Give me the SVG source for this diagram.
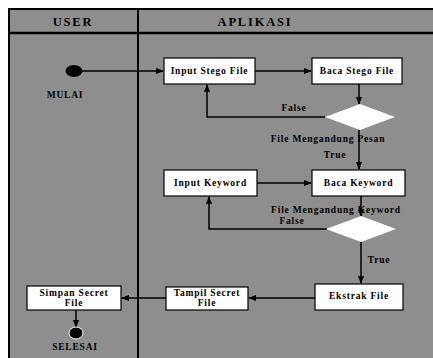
<svg xmlns="http://www.w3.org/2000/svg" width="433" height="358" viewBox="0 0 433 358">
  <style>
    .lane { fill: #8e8e8e; stroke: #000; stroke-width: 2; }
    .box { fill: #fff; stroke: #000; stroke-width: 1.2; }
    .dec { fill: #fff; stroke: none; }
    .t { font-family: "Liberation Serif", "Times New Roman", serif; font-weight: bold; font-size: 9.5px; letter-spacing: 0.8px; fill: #000; text-anchor: middle; }
    .h { font-family: "Liberation Serif", "Times New Roman", serif; font-weight: bold; font-size: 12.5px; letter-spacing: 1.8px; fill: #000; text-anchor: middle; }
    .edge { fill: none; stroke: #000; stroke-width: 1.5; }
  </style>
  <defs>
    <marker id="arr" markerWidth="8" markerHeight="6" refX="7" refY="3" orient="auto" markerUnits="userSpaceOnUse">
      <path d="M0,0 L8,3 L0,6 Z" fill="#000"/>
    </marker>
  </defs>

  <rect width="433" height="358" fill="#fff"/>

  <!-- swimlanes -->
  <g id="lanes">
    <rect class="lane" x="9" y="9" width="440" height="360"/>
    <line x1="9" y1="33" x2="440" y2="33" stroke="#000" stroke-width="2.5"/>
    <line x1="138" y1="9" x2="138" y2="370" stroke="#000" stroke-width="2"/>
    <text class="h" x="73" y="26">USER</text>
    <text class="h" x="255" y="26">APLIKASI</text>
  </g>

  <!-- connectors -->
  <g id="connectors">
    <line class="edge" x1="80" y1="71" x2="163" y2="71" marker-end="url(#arr)"/>
    <line class="edge" x1="255" y1="71" x2="311" y2="71" marker-end="url(#arr)"/>
    <line class="edge" x1="359" y1="84" x2="359" y2="104" marker-end="url(#arr)"/>
    <polyline class="edge" points="325,117 207,117 207,85" marker-end="url(#arr)"/>
    <line class="edge" x1="359" y1="130" x2="359" y2="169" marker-end="url(#arr)"/>
    <line class="edge" x1="257" y1="183" x2="311" y2="183" marker-end="url(#arr)"/>
    <line class="edge" x1="361" y1="196" x2="361" y2="216" marker-end="url(#arr)"/>
    <polyline class="edge" points="327,229 209,229 209,197" marker-end="url(#arr)"/>
    <line class="edge" x1="361" y1="242" x2="361" y2="283" marker-end="url(#arr)"/>
    <line class="edge" x1="315" y1="298" x2="249" y2="298" marker-end="url(#arr)"/>
    <line class="edge" x1="166" y1="298" x2="122" y2="298" marker-end="url(#arr)"/>
    <line class="edge" x1="76" y1="310" x2="76" y2="327" marker-end="url(#arr)"/>
  </g>

  <!-- start -->
  <g id="start">
    <ellipse cx="74" cy="71" rx="8.5" ry="6" fill="#000"/>
    <text class="t" x="65" y="98">MULAI</text>
  </g>

  <g id="input-stego">
    <rect class="box" x="164" y="58" width="91" height="26"/>
    <text class="t" x="209.5" y="74">Input Stego File</text>
  </g>

  <g id="baca-stego">
    <rect class="box" x="312" y="58" width="90" height="26"/>
    <text class="t" x="357" y="74">Baca Stego File</text>
  </g>

  <g id="cek-pesan">
    <polygon class="dec" points="360,104 395,117 360,130 325,117"/>
    <text class="t" x="294" y="111">False</text>
    <text class="t" x="328" y="142">File Mengandung Pesan</text>
    <text class="t" x="335" y="158">True</text>
  </g>

  <g id="input-keyword">
    <rect class="box" x="164" y="170" width="93" height="26"/>
    <text class="t" x="210.5" y="186">Input Keyword</text>
  </g>

  <g id="baca-keyword">
    <rect class="box" x="312" y="170" width="93" height="26"/>
    <text class="t" x="358.5" y="186">Baca Keyword</text>
  </g>

  <g id="cek-keyword">
    <polygon class="dec" points="361,216 396,229 361,242 326,229"/>
    <text class="t" x="336" y="213">File Mengandung Keyword</text>
    <text class="t" x="292" y="224">False</text>
    <text class="t" x="379" y="263">True</text>
  </g>

  <g id="ekstrak">
    <rect class="box" x="315" y="284" width="88" height="26"/>
    <text class="t" x="359" y="299">Ekstrak File</text>
  </g>

  <g id="tampil">
    <rect class="box" x="166" y="287" width="82" height="23"/>
    <text class="t" x="207" y="296">Tampil Secret</text>
    <text class="t" x="207" y="306">File</text>
  </g>

  <g id="simpan">
    <rect class="box" x="27" y="286" width="94" height="24"/>
    <text class="t" x="74" y="296">Simpan Secret</text>
    <text class="t" x="74" y="306">File</text>
  </g>

  <!-- end -->
  <g id="end">
    <ellipse cx="76" cy="333" rx="7" ry="6" fill="#000" stroke="#fff" stroke-width="1"/>
    <text class="t" x="75" y="350">SELESAI</text>
  </g>
</svg>
